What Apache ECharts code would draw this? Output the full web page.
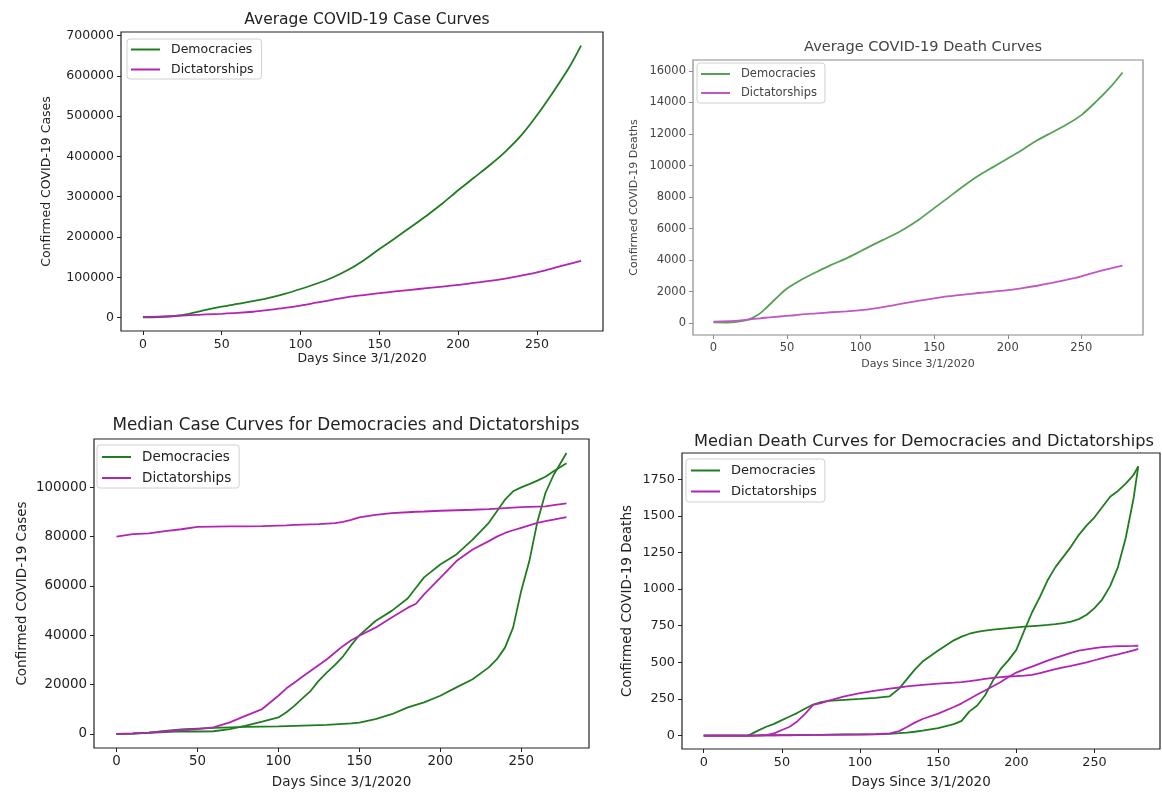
<!DOCTYPE html>
<html><head><meta charset="utf-8">
<script src="https://cdn.jsdelivr.net/npm/echarts@6/dist/echarts.min.js"></script>
<style>html,body{margin:0;padding:0;background:#fff}#c{width:1162px;height:794px}</style>
</head><body><div id="c"></div>
<script>
// ---------- tick labels ----------
const xTicks = [0, 50, 100, 150, 200, 250];
const tlYTicks = [0, 100000, 200000, 300000, 400000, 500000, 600000, 700000];
const trYTicks = [0, 2000, 4000, 6000, 8000, 10000, 12000, 14000, 16000];
const blYTicks = [0, 20000, 40000, 60000, 80000, 100000];
const brYTicks = [0, 250, 500, 750, 1000, 1250, 1500, 1750];

// ---------- top-left: Average COVID-19 Case Curves ----------
const tlDays = [0,10,20,30,40,50,60,70,80,90,100,110,120,130,140,150,160,170,180,190,200,210,220,230,240,250,260,270,278];
const tlDem  = [500,1500,4000,10000,19000,27000,34000,41000,49000,59000,71000,84000,99000,118000,142000,170000,197000,225000,253000,283000,316000,347000,378000,412000,452000,502000,558000,618000,675000];
const tlDict = [2000,2500,4000,6000,8000,9500,11500,14500,19000,24000,30000,37000,44000,51000,56000,60500,65000,69000,73000,77000,81000,86000,91000,97000,104000,112000,122000,133000,141000];

// ---------- top-right: Average COVID-19 Death Curves ----------
const trDays = [0,10,20,25,30,35,40,45,50,55,60,70,80,90,100,110,120,130,140,150,160,170,180,190,200,210,220,230,240,250,260,270,278];
const trDem  = [60,50,150,280,520,900,1350,1800,2200,2500,2780,3250,3700,4100,4570,5050,5500,6000,6600,7300,8000,8700,9350,9900,10450,11000,11600,12100,12600,13200,14050,15000,15900];
const trDict = [100,130,200,250,300,350,390,430,470,510,560,630,700,760,830,950,1100,1280,1440,1580,1720,1820,1920,2010,2100,2230,2380,2560,2760,2980,3250,3480,3650];

// ---------- bottom-left: Median Case Curves ----------
const blDays   = [0,10,20,30,40,50,60,70,80,90,100,105,110,115,120,125,130,135,140,145,150,160,170,180,185,190,200,210,220,230,235,240,245,250,255,260,265,270,278];
const blDemA   = [0,100,400,800,1100,1000,1100,2000,3400,5000,6700,8800,11500,14500,17500,21600,25000,28000,31500,36000,40000,45800,49900,55000,59300,63500,68700,72800,78800,85600,90300,95000,98400,100000,101300,102700,104300,106500,109800];
const blDemB   = [0,100,500,1200,1800,2200,2500,2700,2900,3000,3100,3200,3300,3400,3500,3600,3700,3900,4100,4300,4600,6000,8000,10800,11800,12800,15500,18900,22200,27000,30300,35000,43100,58000,70000,86000,97700,105000,113900];
const blDictA  = [80000,81000,81300,82200,83000,84000,84100,84200,84200,84300,84500,84600,84800,84900,85000,85100,85300,85500,86000,86800,87800,88800,89500,89900,90100,90200,90500,90700,90900,91200,91400,91600,91800,92000,92100,92200,92300,92800,93500];
const blDictB  = [0,200,500,1000,1600,2000,2700,4700,7400,10100,15500,18500,20900,23300,25600,28000,30300,33000,35700,38000,39800,43100,47200,51200,52800,56600,63300,70100,74800,78200,80000,81500,82600,83600,84600,85600,86300,86900,87900];

// ---------- bottom-right: Median Death Curves ----------
const brDays   = [0,10,20,28,30,35,40,45,50,55,60,65,70,75,80,90,100,110,119,125,130,135,140,150,160,165,170,175,180,185,190,195,200,205,210,215,220,225,230,235,240,245,250,255,260,265,270,275,278];
const brDemA   = [0,0,0,0,8,35,60,80,105,130,155,185,212,228,236,244,250,257,268,320,385,450,505,580,650,675,695,708,716,723,728,733,738,743,747,751,755,761,768,778,795,825,870,930,1020,1150,1350,1620,1837];
const brDemB   = [0,0,0,0,0,1,2,2,3,3,4,4,5,5,6,7,8,10,12,16,20,26,33,50,78,100,165,205,275,375,455,515,585,715,840,945,1060,1150,1220,1290,1370,1435,1490,1560,1630,1670,1720,1780,1837];
const brDictA  = [0,0,0,0,0,1,3,15,38,60,98,150,210,222,238,268,290,306,320,328,336,341,346,354,361,365,371,379,387,394,399,403,406,409,414,426,440,453,466,476,488,500,514,528,542,554,567,581,592];
const brDictB  = [0,0,0,0,0,0,1,1,2,2,3,3,4,4,5,6,7,9,14,30,58,88,113,150,195,220,250,280,308,336,366,400,430,452,471,491,511,530,548,565,579,589,597,603,607,610,611,612,613];

// ---------- helpers ----------
const FONT = 'DejaVu Sans';
const GREEN = '#1f7d1f', MAG = '#b224b2';
const GREEN_L = '#55a255', MAG_L = '#c256c2';
const lastDay = tlDays[tlDays.length - 1];
const xMin = -0.05 * lastDay, xMax = lastDay * 1.05;
function pairs(d, v) { return d.map((x, i) => [x, v[i]]); }
function yRange(arrs) {
  let lo = Infinity, hi = -Infinity;
  arrs.forEach(a => a.forEach(v => { lo = Math.min(lo, v); hi = Math.max(hi, v); }));
  const m = (hi - lo) * 0.05; return [lo - m, hi + m];
}

const panels = [
  { grid: {left:121, top:32, width:482, height:299}, ticks: tlYTicks, arrs: [tlDem, tlDict],
    title: 'Average COVID-19 Case Curves', tx: 362, ty: 7, tfs: 15.5,
    ylab: 'Confirmed COVID-19 Cases', fs: 12.5, nfs: 12.5, yGap: 68, xGap: 20, txt: '#222', box: '#222',
    legend: {left:127, top:39, fs:12.5, gap:7, pad:[4,8,3,4]}, g: GREEN, m: MAG },
  { grid: {left:693, top:60, width:450, height:275}, ticks: trYTicks, arrs: [trDem, trDict],
    title: 'Average COVID-19 Death Curves', tx: 918, ty: 35, tfs: 14.5,
    ylab: 'Confirmed COVID-19 Deaths', fs: 11.5, nfs: 11, yGap: 53, xGap: 24, txt: '#444', box: '#8a8a8a',
    legend: {left:697, top:63, fs:11.5, gap:7, pad:[5,8,4,4]}, g: GREEN_L, m: MAG_L },
  { grid: {left:94, top:439, width:495, height:309}, ticks: blYTicks, arrs: [blDemA, blDemB, blDictA, blDictB],
    title: 'Median Case Curves for Democracies and Dictatorships', tx: 341, ty: 412, tfs: 16.8,
    ylab: 'Confirmed COVID-19 Cases', fs: 13.4, nfs: 13.5, yGap: 65, xGap: 27, txt: '#222', box: '#222',
    legend: {left:97, top:445, fs:13.5, gap:7, pad:[5,8,3,5]}, g: GREEN, m: MAG },
  { grid: {left:682, top:453, width:478, height:296}, ticks: brYTicks, arrs: [brDemA, brDemB, brDictA, brDictB],
    title: 'Median Death Curves for Democracies and Dictatorships', tx: 919, ty: 429, tfs: 16.2,
    ylab: 'Confirmed COVID-19 Deaths', fs: 12.8, nfs: 13.5, yGap: 48, xGap: 26, txt: '#222', box: '#222',
    legend: {left:686, top:459, fs:13, gap:8, pad:[5,8,4,5]}, g: GREEN, m: MAG }
];

const option = { animation: false, backgroundColor: '#fff', grid: [], xAxis: [], yAxis: [], series: [], title: [], legend: [] };

panels.forEach((p, gi) => {
  option.grid.push(Object.assign({ show: true, borderColor: p.box, borderWidth: 1.2, backgroundColor: 'transparent' }, p.grid));
  const [yMin, yMax] = yRange(p.arrs);
  option.xAxis.push({
    type: 'value', gridIndex: gi, min: xMin, max: xMax,
    name: 'Days Since 3/1/2020', nameLocation: 'middle', nameGap: p.xGap,
    nameTextStyle: { fontFamily: FONT, fontSize: p.nfs, color: p.txt },
    axisLine: { show: false, onZero: false }, splitLine: { show: false },
    axisTick: { show: true, inside: false, length: 4, lineStyle: { color: p.box }, customValues: xTicks },
    axisLabel: { fontFamily: FONT, fontSize: p.fs, color: p.txt, margin: 7, customValues: xTicks, formatter: v => String(v) }
  });
  option.yAxis.push({
    type: 'value', gridIndex: gi, min: yMin, max: yMax,
    name: p.ylab, nameLocation: 'middle', nameGap: p.yGap,
    nameTextStyle: { fontFamily: FONT, fontSize: p.nfs, color: p.txt },
    axisLine: { show: false, onZero: false }, splitLine: { show: false },
    axisTick: { show: true, inside: false, length: 4, lineStyle: { color: p.box }, customValues: p.ticks },
    axisLabel: { fontFamily: FONT, fontSize: p.fs, color: p.txt, margin: 7, customValues: p.ticks, formatter: v => String(v) }
  });
  option.title.push({ text: p.title, left: p.tx, top: p.ty, textAlign: 'center',
    textStyle: { fontFamily: FONT, fontSize: p.tfs, fontWeight: 'normal', color: p.txt } });
  const L = p.legend;
  option.legend.push({
    orient: 'vertical', left: L.left, top: L.top, padding: L.pad, itemGap: L.gap,
    backgroundColor: '#fff', borderColor: '#d0d0d0', borderWidth: 1, borderRadius: 3,
    icon: 'rect', itemWidth: 29, itemHeight: 2, selectedMode: false,
    textStyle: { fontFamily: FONT, fontSize: L.fs, color: p.txt, padding: [0, 0, 0, 6] },
    data: [ { name: 'Democracies', itemStyle: { color: p.g } }, { name: 'Dictatorships', itemStyle: { color: p.m } } ]
  });
});

function addLine(gi, name, color, days, vals, smooth) {
  option.series.push({ type: 'line', name: name, xAxisIndex: gi, yAxisIndex: gi, data: pairs(days, vals),
    showSymbol: false, smooth: smooth, lineStyle: { color: color, width: 1.8 }, itemStyle: { color: color },
    emphasis: { disabled: true }, z: 3 });
}
addLine(0, 'Democracies', GREEN, tlDays, tlDem, 0.3);
addLine(0, 'Dictatorships', MAG, tlDays, tlDict, 0.3);
addLine(1, 'Democracies', GREEN_L, trDays, trDem, 0.3);
addLine(1, 'Dictatorships', MAG_L, trDays, trDict, 0.3);
addLine(2, 'Democracies', GREEN, blDays, blDemA, false);
addLine(2, 'Democracies', GREEN, blDays, blDemB, false);
addLine(2, 'Dictatorships', MAG, blDays, blDictA, false);
addLine(2, 'Dictatorships', MAG, blDays, blDictB, false);
addLine(3, 'Democracies', GREEN, brDays, brDemA, false);
addLine(3, 'Democracies', GREEN, brDays, brDemB, false);
addLine(3, 'Dictatorships', MAG, brDays, brDictA, false);
addLine(3, 'Dictatorships', MAG, brDays, brDictB, false);

const chart = echarts.init(document.getElementById('c'), null, { renderer: 'canvas' });
chart.setOption(option);
</script>
</body></html>
